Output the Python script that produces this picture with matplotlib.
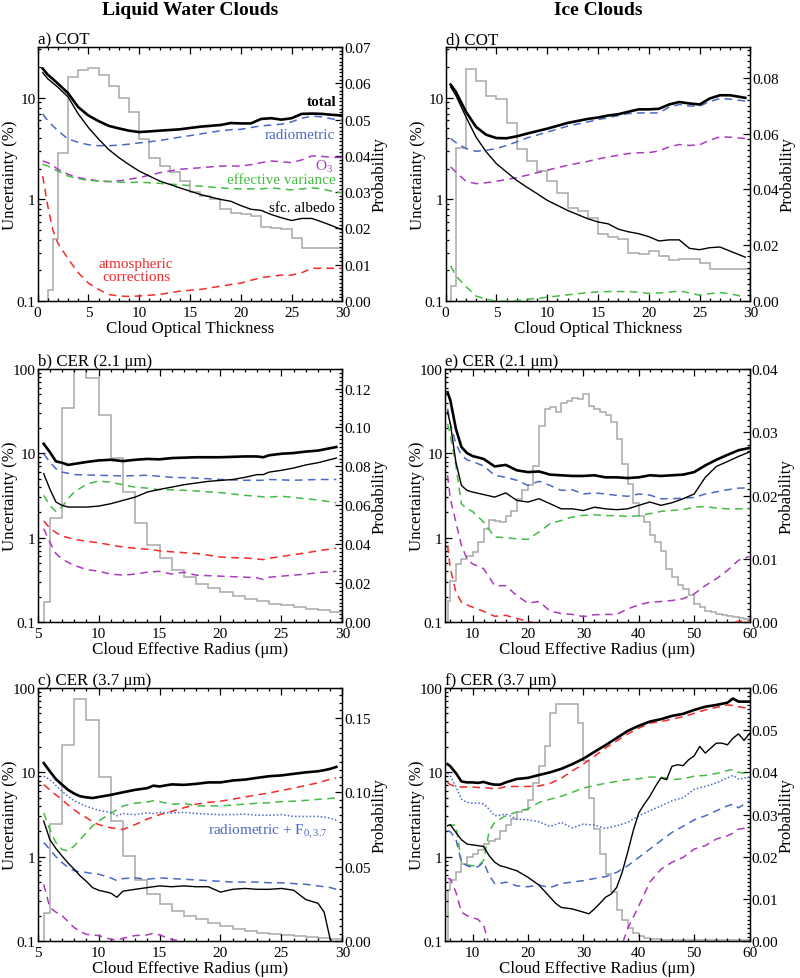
import matplotlib
matplotlib.use("Agg")
import matplotlib.pyplot as plt
from matplotlib.ticker import MultipleLocator, LogLocator, FixedLocator, FuncFormatter, NullFormatter, FormatStrFormatter

plt.rcParams['font.family'] = ['Liberation Serif', 'DejaVu Serif']
plt.rcParams['mathtext.fontset'] = 'custom'
plt.rcParams['mathtext.rm'] = 'Liberation Serif'
plt.rcParams['mathtext.it'] = 'Liberation Serif:italic'

BLUE = '#4a68c4'
RED = '#f42a2a'
GREEN = '#45bb45'
PURPLE = '#a83cbc'
GRAY = '#a8a8a8'

# ---------- a) liquid COT ----------
xa = [0.5, 1, 1.5, 2, 3, 4, 5, 6, 7, 8, 9, 10, 12, 14, 16, 18, 19, 20, 21, 22, 23, 24, 25, 26, 27, 28, 29, 30]
total_a = [19.4, 16.9, 15.3, 13.8, 11.1, 8.1, 6.7, 5.9, 5.3, 5.0, 4.75, 4.6, 4.75, 4.9, 5.2, 5.4, 5.65, 5.6, 5.6, 6.2, 6.3, 6.1, 6.3, 6.95, 7.0, 6.95, 6.8, 6.7]
rad_a = [6.95, 5.97, 5.3, 4.75, 3.93, 3.65, 3.45, 3.38, 3.38, 3.42, 3.5, 3.6, 3.8, 4.1, 4.4, 4.75, 4.85, 4.9, 5.1, 5.3, 5.4, 5.5, 5.8, 6.3, 6.6, 6.5, 6.2, 6.0]
o3_a = [2.39, 2.3, 2.15, 1.98, 1.77, 1.64, 1.58, 1.52, 1.5, 1.52, 1.58, 1.64, 1.83, 1.98, 2.05, 2.13, 2.13, 2.13, 2.2, 2.3, 2.39, 2.35, 2.3, 2.45, 2.68, 2.65, 2.6, 2.58]
effvar_a = [2.22, 2.13, 2.0, 1.9, 1.7, 1.6, 1.54, 1.52, 1.5, 1.48, 1.47, 1.48, 1.44, 1.39, 1.35, 1.3, 1.28, 1.27, 1.27, 1.27, 1.3, 1.27, 1.24, 1.27, 1.3, 1.27, 1.2, 1.16]
sfc_a = [17.7, 15.4, 14.0, 12.7, 10.2, 6.95, 5.1, 3.93, 3.1, 2.58, 2.2, 1.9, 1.52, 1.3, 1.12, 1.0, 0.96, 0.87, 0.8, 0.78, 0.71, 0.66, 0.62, 0.65, 0.65, 0.6, 0.55, 0.5]
atm_a = [1.7, 0.86, 0.5, 0.37, 0.26, 0.19, 0.15, 0.13, 0.116, 0.112, 0.111, 0.112, 0.116, 0.125, 0.13, 0.14, 0.145, 0.15, 0.16, 0.17, 0.175, 0.18, 0.18, 0.19, 0.21, 0.21, 0.21, 0.21]
edges_a = [1, 1.5] + list(range(2, 31))
prob_a = [0.003, 0.017, 0.0407, 0.0617, 0.0638, 0.0642, 0.0623, 0.0592, 0.0559, 0.0522, 0.0447, 0.0393,
          0.0373, 0.0355, 0.033, 0.030, 0.029, 0.028, 0.0253, 0.0244, 0.024, 0.0235, 0.0203, 0.020,
          0.0198, 0.0175, 0.0147, 0.0147, 0.0145, 0.0145]

# ---------- d) ice COT ----------
xd = [0.5, 1, 2, 3, 4, 5, 6, 7, 8, 9, 10, 12, 14, 15, 16, 17, 18, 19, 20, 21, 22, 23, 24, 25, 26, 27, 28, 29.5]
total_d = [13.5, 11.5, 7.3, 5.17, 4.33, 4.02, 4.0, 4.18, 4.44, 4.7, 4.97, 5.66, 6.2, 6.4, 6.7, 6.9, 7.3, 7.7, 7.7, 7.8, 8.6, 9.1, 8.8, 8.6, 9.85, 10.6, 10.6, 10.0]
rad_d = [3.98, 3.63, 3.17, 2.98, 3.05, 3.17, 3.4, 3.68, 4.03, 4.3, 4.6, 5.26, 5.8, 6.1, 6.37, 6.7, 7.0, 7.1, 7.1, 7.1, 8.1, 8.6, 8.3, 8.3, 9.2, 9.85, 9.7, 9.3]
o3_d = [2.09, 1.86, 1.51, 1.43, 1.46, 1.51, 1.57, 1.64, 1.73, 1.83, 1.94, 2.17, 2.37, 2.5, 2.62, 2.72, 2.83, 2.88, 2.89, 3.0, 3.29, 3.47, 3.4, 3.45, 3.83, 4.13, 4.1, 3.98]
effvar_d = [0.222, 0.177, 0.139, 0.112, 0.104, 0.1, 0.1, 0.101, 0.104, 0.106, 0.109, 0.115, 0.121, 0.123, 0.124, 0.124, 0.124, 0.122, 0.119, 0.12, 0.122, 0.126, 0.12, 0.114, 0.118, 0.121, 0.118, 0.109]
sfc_d = [12.8, 10.6, 6.5, 4.1, 2.94, 2.25, 1.86, 1.54, 1.32, 1.14, 0.98, 0.78, 0.645, 0.6, 0.575, 0.51, 0.48, 0.46, 0.43, 0.39, 0.4, 0.4, 0.33, 0.32, 0.335, 0.34, 0.31, 0.27]
edges_d = [0.5] + list(range(1, 31))
prob_d = [0.0054, 0.0549, 0.0832, 0.0788, 0.0734, 0.0725, 0.0639, 0.0543, 0.0501, 0.0466, 0.043, 0.0388,
          0.0334, 0.0322, 0.0299, 0.0239, 0.023, 0.0221, 0.0173, 0.017, 0.0179, 0.0161, 0.0147, 0.0149,
          0.0149, 0.0137, 0.0113, 0.0113, 0.0113, 0.0113]

# ---------- b) liquid CER 2.1 ----------
xb = [5.5, 6, 6.5, 7, 7.5, 8, 9, 10, 11, 12, 13, 14, 15, 16, 17, 18, 19, 20, 21, 22, 23, 23.5, 24, 25, 26, 27, 28, 29.5]
total_b = [13.0, 10.4, 8.04, 7.75, 7.3, 7.5, 7.9, 8.25, 8.4, 8.1, 8.4, 8.6, 8.5, 8.8, 8.9, 9.0, 9.0, 9.0, 9.1, 9.2, 9.2, 9.0, 9.5, 9.9, 10.1, 10.5, 10.8, 11.9]
rad_b = [9.9, 7.9, 6.6, 6.0, 5.8, 5.6, 5.55, 5.5, 5.45, 5.4, 5.45, 5.5, 5.35, 5.2, 5.15, 5.1, 5.0, 4.9, 4.85, 4.8, 4.8, 4.8, 4.9, 4.85, 4.8, 4.85, 4.9, 4.9]
effvar_b = [3.18, 2.42, 2.05, 2.31, 2.9, 3.48, 4.3, 4.7, 4.55, 4.25, 3.98, 3.87, 3.7, 3.7, 3.65, 3.58, 3.5, 3.42, 3.3, 3.18, 3.1, 3.05, 3.03, 3.1, 3.0, 2.9, 2.8, 2.6]
sfc_b = [5.74, 3.8, 2.65, 2.42, 2.31, 2.31, 2.31, 2.37, 2.53, 2.77, 3.03, 3.48, 3.74, 3.98, 4.25, 4.45, 4.66, 4.78, 4.9, 5.2, 5.6, 5.6, 6.0, 6.3, 6.7, 7.3, 7.75, 8.8]
atm_b = [1.58, 1.3, 1.15, 1.05, 1.0, 0.955, 0.91, 0.87, 0.82, 0.775, 0.75, 0.73, 0.7, 0.68, 0.665, 0.65, 0.62, 0.59, 0.58, 0.575, 0.56, 0.55, 0.57, 0.6, 0.63, 0.66, 0.7, 0.75]
o3_b = [1.28, 0.89, 0.65, 0.56, 0.51, 0.47, 0.42, 0.4, 0.37, 0.36, 0.37, 0.39, 0.4, 0.37, 0.39, 0.36, 0.355, 0.35, 0.345, 0.34, 0.335, 0.32, 0.34, 0.35, 0.36, 0.37, 0.385, 0.4]
edges_b = [5.5] + list(range(6, 31))
prob_b = [0.0102, 0.0536, 0.1098, 0.15, 0.1256, 0.1064, 0.0843, 0.0667, 0.051, 0.0395, 0.0327, 0.0269,
          0.023, 0.0196, 0.0174, 0.0153, 0.0136, 0.0119, 0.0106, 0.0094, 0.0085, 0.0077, 0.0068, 0.006, 0.0054]

# ---------- e) ice CER 2.1 ----------
xe = [5.5, 6, 7, 8, 9, 10, 12, 14, 16, 18, 20, 22, 24, 26, 28, 30, 32, 34, 36, 38, 40, 42, 44, 46, 48, 50, 52, 54, 56, 58, 60]
total_e = [53, 42.6, 19.6, 11.9, 10.1, 9.3, 8.6, 7.0, 7.3, 6.3, 6.0, 6.1, 5.6, 5.5, 5.4, 5.4, 5.5, 5.2, 5.2, 5.1, 5.2, 5.5, 5.4, 5.5, 5.6, 6.0, 7.2, 8.4, 9.6, 10.9, 11.6]
sfc_e = [30.9, 22.5, 7.9, 4.17, 3.64, 3.48, 3.25, 3.03, 3.4, 2.77, 2.65, 2.9, 2.53, 2.2, 2.2, 2.1, 2.3, 2.2, 2.15, 2.2, 2.42, 2.65, 2.42, 2.6, 2.9, 3.3, 5.2, 7.0, 8.0, 9.2, 10.4]
rad_e = [33.8, 22.5, 13.0, 9.5, 8.4, 8.0, 7.1, 5.5, 5.2, 4.8, 4.17, 4.66, 4.17, 3.64, 3.7, 3.3, 3.4, 3.3, 3.18, 3.1, 3.3, 3.2, 2.9, 2.9, 2.95, 3.0, 3.3, 3.5, 3.7, 3.87, 3.9]
effvar_e = [22.5, 16.3, 7.2, 2.53, 2.2, 2.05, 1.53, 1.02, 1.0, 0.97, 0.955, 1.17, 1.47, 1.6, 1.76, 1.84, 1.87, 1.82, 1.84, 1.78, 1.82, 1.93, 2.05, 2.11, 2.15, 2.31, 2.34, 2.25, 2.2, 2.2, 2.2]
o3_e = [5.5, 2.9, 1.53, 0.81, 0.56, 0.49, 0.43, 0.27, 0.27, 0.205, 0.168, 0.175, 0.135, 0.126, 0.123, 0.116, 0.122, 0.123, 0.123, 0.143, 0.16, 0.172, 0.175, 0.18, 0.189, 0.216, 0.27, 0.326, 0.41, 0.54, 0.6]
atm_e = [0.81, 0.43, 0.227, 0.172, 0.16, 0.15, 0.134, 0.117, 0.12, 0.11, 0.102, 0.095, 0.09, 0.085, 0.08, 0.08, 0.08, 0.08, 0.08, 0.08, 0.08, 0.08, 0.08, 0.08, 0.08, 0.08, 0.085, 0.09, 0.095, 0.102, 0.104]
edges_e = [5.5] + list(range(6, 61))
prob_e = [0.0034, 0.0065, 0.0092, 0.01, 0.0104, 0.011, 0.0126, 0.0147, 0.0162, 0.016, 0.0158, 0.0167,
          0.0176, 0.0195, 0.0208, 0.0216, 0.0247, 0.031, 0.0337, 0.034, 0.0332, 0.0347, 0.035, 0.0355,
          0.0353, 0.036, 0.0342, 0.0337, 0.0332, 0.0327, 0.0316, 0.029, 0.025, 0.0218, 0.0189, 0.0168,
          0.0158, 0.0137, 0.0126, 0.0113, 0.0084, 0.0071, 0.0058, 0.0053, 0.0042, 0.0029, 0.0024, 0.0018,
          0.0016, 0.0013, 0.0011, 0.001, 0.0008, 0.0007, 0.0005]

# ---------- c) liquid CER 3.7 ----------
xc = [5.5, 6, 6.5, 7, 7.5, 8, 8.5, 9, 9.5, 10, 11, 11.5, 12, 13, 14, 14.5, 15, 16, 17, 18, 19, 20, 21, 22, 23, 24, 25, 26, 27, 28, 28.5, 29, 29.5]
total_c = [12.9, 10.3, 8.3, 7.15, 6.2, 5.6, 5.2, 5.05, 4.96, 5.1, 5.4, 5.6, 5.8, 6.2, 6.5, 6.95, 6.8, 7.2, 7.1, 7.3, 7.6, 7.6, 8.0, 8.2, 8.6, 9.0, 9.2, 9.6, 10.0, 10.3, 10.6, 11.0, 11.6]
radf0_c = [9.0, 8.2, 7.0, 5.95, 5.2, 4.6, 4.25, 3.95, 3.75, 3.55, 3.35, 3.06, 3.25, 3.15, 3.3, 3.25, 3.35, 3.3, 3.35, 3.25, 3.2, 3.15, 3.15, 3.2, 3.1, 3.1, 3.15, 3.0, 3.0, 3.0, 2.95, 2.85, 2.7]
atm_c = [7.15, 6.2, 5.4, 4.75, 4.1, 3.6, 3.2, 2.9, 2.6, 2.4, 2.2, 2.15, 2.1, 2.4, 2.8, 2.95, 3.15, 3.45, 3.8, 4.2, 4.4, 4.55, 4.8, 5.1, 5.4, 5.7, 6.1, 6.5, 7.0, 7.5, 7.9, 8.3, 8.6]
effvar_c = [3.3, 2.1, 1.47, 1.22, 1.17, 1.34, 1.6, 1.93, 2.3, 2.65, 3.25, 3.6, 4.0, 4.3, 4.45, 4.6, 4.5, 4.17, 4.3, 4.0, 4.0, 4.0, 4.1, 4.2, 4.3, 4.36, 4.5, 4.55, 4.65, 4.78, 4.85, 4.9, 5.0]
rad_c = [1.47, 1.22, 1.0, 0.85, 0.75, 0.68, 0.66, 0.65, 0.63, 0.62, 0.56, 0.52, 0.55, 0.56, 0.54, 0.55, 0.56, 0.55, 0.54, 0.53, 0.52, 0.51, 0.5, 0.5, 0.5, 0.49, 0.49, 0.48, 0.47, 0.45, 0.44, 0.43, 0.41]
sfc_c = [2.65, 1.6, 1.25, 1.02, 0.84, 0.71, 0.59, 0.51, 0.43, 0.4, 0.37, 0.33, 0.39, 0.41, 0.43, 0.44, 0.45, 0.44, 0.45, 0.44, 0.44, 0.38, 0.41, 0.42, 0.41, 0.41, 0.42, 0.4, 0.31, 0.28, 0.22, 0.105, 0.08]
o3_c = [0.47, 0.25, 0.22, 0.2, 0.17, 0.144, 0.13, 0.12, 0.118, 0.116, 0.105, 0.102, 0.108, 0.116, 0.118, 0.124, 0.118, 0.105, 0.097, 0.09, 0.085, 0.08, 0.08, 0.08, 0.08, 0.08, 0.08, 0.08, 0.08, 0.08, 0.08, 0.08, 0.08]
edges_c = [5.5] + list(range(6, 31))
prob_c = [0.019, 0.0788, 0.132, 0.1623, 0.1484, 0.1105, 0.0804, 0.057, 0.0413, 0.0313, 0.0246, 0.0201,
          0.0167, 0.0145, 0.0118, 0.01, 0.0083, 0.0067, 0.0056, 0.0045, 0.0038, 0.0033, 0.0028, 0.0022, 0.0016]

# ---------- f) ice CER 3.7 ----------
xf = [5.5, 6, 7, 8, 9, 10, 11, 12, 13, 14, 15, 16, 18, 20, 22, 24, 26, 28, 30, 32, 34, 36, 38, 40, 42, 44, 46, 48, 50, 52, 54, 56, 57, 58, 60]
total_f = [12.5, 11.8, 9.8, 7.8, 7.6, 7.6, 7.5, 7.7, 7.35, 7.15, 7.15, 7.6, 8.35, 8.6, 9.3, 10.0, 11.0, 12.5, 14.5, 17.5, 21.0, 25.5, 31.0, 35.6, 40.0, 42.7, 46.7, 49.4, 55, 60, 63, 67, 75, 69, 69]
atm_f = [7.6, 7.15, 6.8, 6.7, 6.7, 6.7, 6.6, 6.6, 6.5, 6.35, 6.5, 6.8, 6.8, 6.8, 6.9, 7.4, 8.5, 10.4, 12.5, 15.5, 19.4, 23.5, 28.5, 33.4, 38.3, 40, 42.7, 45.8, 50, 55, 59, 63, 62, 60, 57]
effvar_f = [2.37, 2.37, 2.37, 0.86, 0.8, 0.78, 0.77, 0.9, 2.0, 2.55, 2.8, 3.05, 3.4, 3.7, 4.4, 4.8, 5.2, 5.8, 6.5, 7.0, 7.4, 7.8, 8.2, 8.4, 8.8, 8.8, 8.2, 8.4, 9.0, 9.2, 9.7, 10.5, 10.8, 10.0, 9.6]
radf0_f = [9.8, 9.0, 6.8, 4.8, 4.4, 4.3, 4.35, 4.2, 3.65, 3.05, 3.1, 3.2, 2.8, 2.73, 2.6, 2.28, 2.55, 2.2, 2.43, 2.36, 2.16, 2.32, 2.55, 3.05, 3.5, 4.0, 4.6, 5.0, 6.3, 6.8, 7.5, 8.6, 9.2, 8.3, 8.8]
rad_f = [2.03, 1.97, 1.62, 0.86, 0.78, 0.75, 0.76, 0.86, 0.6, 0.48, 0.48, 0.5, 0.45, 0.44, 0.46, 0.43, 0.48, 0.5, 0.52, 0.55, 0.58, 0.65, 0.78, 0.98, 1.23, 1.55, 1.94, 2.3, 2.73, 3.05, 3.5, 4.0, 4.2, 3.8, 4.6]
o3_f = [0.555, 0.545, 0.38, 0.22, 0.2, 0.19, 0.18, 0.155, 0.09, 0.06, 0.05, 0.05, 0.05, 0.05, 0.05, 0.05, 0.05, 0.05, 0.05, 0.05, 0.05, 0.06, 0.14, 0.26, 0.5, 0.71, 0.86, 0.98, 1.23, 1.35, 1.62, 1.77, 1.9, 2.12, 2.22]
xf_sfc = [5.5, 6, 7, 8, 9, 10, 11, 12, 13, 14, 15, 16, 18, 20, 22, 24, 25, 26, 28, 30, 31, 32, 33, 34, 35, 36, 37, 38, 39, 40, 41, 42, 43, 44, 45, 46, 47, 48, 49, 50, 51, 52, 53, 54, 55, 56, 57, 58, 59, 60]
sfc_f = [2.32, 2.39, 1.94, 1.59, 1.41, 1.38, 1.35, 1.32, 1.03, 0.86, 0.78, 0.75, 0.68, 0.57, 0.46, 0.33, 0.28, 0.25, 0.24, 0.22, 0.21, 0.24, 0.28, 0.33, 0.36, 0.43, 0.65, 1.13, 2.03, 3.3, 4.2, 5.2, 6.8, 8.6, 8.2, 11.8, 12.3, 12.0, 14.1, 15.7, 20.3, 16.9, 19.4, 22.2, 22.2, 21.2, 25.4, 28.6, 23.9, 29]
edges_f = [5.5] + list(range(6, 61))
prob_f = [0.012, 0.0144, 0.0164, 0.0183, 0.0199, 0.0207, 0.0215, 0.023, 0.0236, 0.0242, 0.0262, 0.0274,
          0.029, 0.0305, 0.031, 0.0335, 0.0375, 0.0414, 0.0462, 0.0541, 0.0561, 0.0561, 0.0561, 0.0561,
          0.0517, 0.0427, 0.034, 0.0266, 0.0207, 0.016, 0.0117, 0.0073, 0.005, 0.003, 0.002, 0.0012,
          0.0008, 0.0005, 0.0004, 0.0003] + [0.0002] * 15

DASH = (0, (5, 3.5))
DOT = (0, (1, 1.4))


def log_label(v, pos):
    return '%g' % v


def setup(rect, xlim, xmaj, xmin, ylim, pmax, pmaj, pmin, title, xlabel):
    ax = fig.add_axes(rect)
    ax2 = ax.twinx()
    ax.set_zorder(ax2.get_zorder() + 1)
    ax.patch.set_visible(False)
    ax.set_yscale('log')
    ax.set_xlim(*xlim)
    ax.set_ylim(*ylim)
    ax.xaxis.set_major_locator(MultipleLocator(xmaj))
    ax.xaxis.set_minor_locator(MultipleLocator(xmin))
    ax.yaxis.set_major_locator(FixedLocator([0.1, 1, 10, 100]))
    ax.yaxis.set_major_formatter(FuncFormatter(log_label))
    ax.yaxis.set_minor_locator(LogLocator(subs=range(2, 10)))
    ax.yaxis.set_minor_formatter(NullFormatter())
    ax.tick_params(which='both', direction='in', top=True, right=False, labelsize=11, width=0.9)
    ax.tick_params(which='major', length=5)
    ax.tick_params(which='minor', length=2.5)
    ax.tick_params(axis='y', pad=1.5)
    ax.tick_params(axis='x', pad=3.5)
    ax2.set_ylim(0, pmax)
    ax2.yaxis.set_major_locator(MultipleLocator(pmaj))
    ax2.yaxis.set_minor_locator(MultipleLocator(pmin))
    ax2.yaxis.set_major_formatter(FormatStrFormatter('%.2f'))
    ax2.tick_params(which='both', direction='in', labelsize=11, width=0.9, pad=1.5)
    ax2.tick_params(which='major', length=5)
    ax2.tick_params(which='minor', length=2.5)
    for s in ax2.spines.values():
        s.set_linewidth(1.0)
    ax.set_xlabel(xlabel, fontsize=12.2, labelpad=0.5)
    ax.set_ylabel('Uncertainty (%)', fontsize=12.2)
    ax.yaxis.set_label_coords(-0.064, 0.5)
    ax2.set_ylabel('Probability', fontsize=12.2)
    ax2.yaxis.set_label_coords(1.095, 0.5)
    ax.set_title(title, loc='left', fontsize=12.2, pad=3)
    return ax, ax2


fig = plt.figure(figsize=(8, 9.79), dpi=100)

COT = 'Cloud Optical Thickness'
CER = 'Cloud Effective Radius (\u03bcm)'

# a)
ax, ax2 = setup([0.047, 0.6915, 0.381, 0.2594], (0, 30), 5, 1, (0.1, 31.6), 0.07, 0.01, 0.001, 'a) COT', COT)
ax2.stairs(prob_a, edges_a, color=GRAY, lw=1.1)
ax.plot(xa, rad_a, color=BLUE, ls=DASH, lw=1.1)
ax.plot(xa, o3_a, color=PURPLE, ls=DASH, lw=1.1)
ax.plot(xa, effvar_a, color=GREEN, ls=DASH, lw=1.1)
ax.plot(xa, atm_a, color=RED, ls=DASH, lw=1.1)
ax.plot(xa, sfc_a, color='black', lw=1.0)
ax.plot(xa, total_a, color='black', lw=1.9)
ax.text(29.4, 9.1, 'total', ha='right', va='center', fontsize=11, fontweight='bold')
ax.text(29.3, 4.4, 'radiometric', ha='right', va='center', fontsize=11, color=BLUE)
ax.text(29.1, 2.13, 'O$_3$', ha='right', va='center', fontsize=11, color=PURPLE)
ax.text(29.3, 1.58, 'effective variance', ha='right', va='center', fontsize=11, color=GREEN)
ax.text(29.3, 0.83, 'sfc. albedo', ha='right', va='center', fontsize=11, color='black')
ax.text(9.7, 0.2, 'atmospheric\ncorrections', ha='center', va='center', fontsize=11, color=RED, linespacing=1.0)

# d)
ax, ax2 = setup([0.557, 0.6915, 0.381, 0.2594], (0, 30), 5, 1, (0.1, 31.6), 0.091, 0.02, 0.002, 'd) COT', COT)
ax2.stairs(prob_d, edges_d, color=GRAY, lw=1.1)
ax.plot(xd, rad_d, color=BLUE, ls=DASH, lw=1.1)
ax.plot(xd, o3_d, color=PURPLE, ls=DASH, lw=1.1)
ax.plot(xd, effvar_d, color=GREEN, ls=DASH, lw=1.1)
ax.plot(xd, sfc_d, color='black', lw=1.0)
ax.plot(xd, total_d, color='black', lw=1.9)

# b)
ax, ax2 = setup([0.047, 0.3636, 0.381, 0.2584], (5, 30), 5, 1, (0.1, 100), 0.13, 0.02, 0.002, 'b) CER (2.1 \u03bcm)', CER)
ax2.stairs(prob_b, edges_b, color=GRAY, lw=1.1)
ax.plot(xb, rad_b, color=BLUE, ls=DASH, lw=1.1)
ax.plot(xb, effvar_b, color=GREEN, ls=DASH, lw=1.1)
ax.plot(xb, atm_b, color=RED, ls=DASH, lw=1.1)
ax.plot(xb, o3_b, color=PURPLE, ls=DASH, lw=1.1)
ax.plot(xb, sfc_b, color='black', lw=1.0)
ax.plot(xb, total_b, color='black', lw=1.9)

# e)
ax, ax2 = setup([0.556, 0.3636, 0.381, 0.2584], (5, 60), 10, 2, (0.1, 100), 0.04, 0.01, 0.001, 'e) CER (2.1 \u03bcm)', CER)
ax2.stairs(prob_e, edges_e, color=GRAY, lw=1.1)
ax.plot(xe, rad_e, color=BLUE, ls=DASH, lw=1.1)
ax.plot(xe, effvar_e, color=GREEN, ls=DASH, lw=1.1)
ax.plot(xe, o3_e, color=PURPLE, ls=DASH, lw=1.1)
ax.plot(xe, atm_e, color=RED, ls=DASH, lw=1.1)
ax.plot(xe, sfc_e, color='black', lw=1.0)
ax.plot(xe, total_e, color='black', lw=1.9)

# c)
ax, ax2 = setup([0.047, 0.0378, 0.381, 0.2584], (5, 30), 5, 1, (0.1, 100), 0.17, 0.05, 0.005, 'c) CER (3.7 \u03bcm)', CER)
ax2.stairs(prob_c, edges_c, color=GRAY, lw=1.1)
ax.plot(xc, radf0_c, color=BLUE, ls=DOT, lw=1.1)
ax.plot(xc, atm_c, color=RED, ls=DASH, lw=1.1)
ax.plot(xc, effvar_c, color=GREEN, ls=DASH, lw=1.1)
ax.plot(xc, rad_c, color=BLUE, ls=DASH, lw=1.1)
ax.plot(xc, o3_c, color=PURPLE, ls=DASH, lw=1.1)
ax.plot(xc, sfc_c, color='black', lw=1.0)
ax.plot(xc, total_c, color='black', lw=1.9)
ax.text(19.0, 2.0, 'radiometric + F$_{0,3.7}$', ha='left', va='center', fontsize=11, color=BLUE)

# f)
ax, ax2 = setup([0.556, 0.0378, 0.381, 0.2584], (5, 60), 10, 2, (0.1, 100), 0.06, 0.01, 0.001, 'f) CER (3.7 \u03bcm)', CER)
ax2.stairs(prob_f, edges_f, color=GRAY, lw=1.1)
ax.plot(xf, atm_f, color=RED, ls=DASH, lw=1.1)
ax.plot(xf, effvar_f, color=GREEN, ls=DASH, lw=1.1)
ax.plot(xf, radf0_f, color=BLUE, ls=DOT, lw=1.1)
ax.plot(xf, rad_f, color=BLUE, ls=DASH, lw=1.1)
ax.plot(xf, o3_f, color=PURPLE, ls=DASH, lw=1.1)
ax.plot(xf_sfc, sfc_f, color='black', lw=1.0)
ax.plot(xf, total_f, color='black', lw=1.9)

fig.text(0.2375, 0.998, 'Liquid Water Clouds', ha='center', va='top', fontsize=14, fontweight='bold')
fig.text(0.7475, 0.998, 'Ice Clouds', ha='center', va='top', fontsize=14, fontweight='bold')

fig.savefig('out.png', dpi=100)
